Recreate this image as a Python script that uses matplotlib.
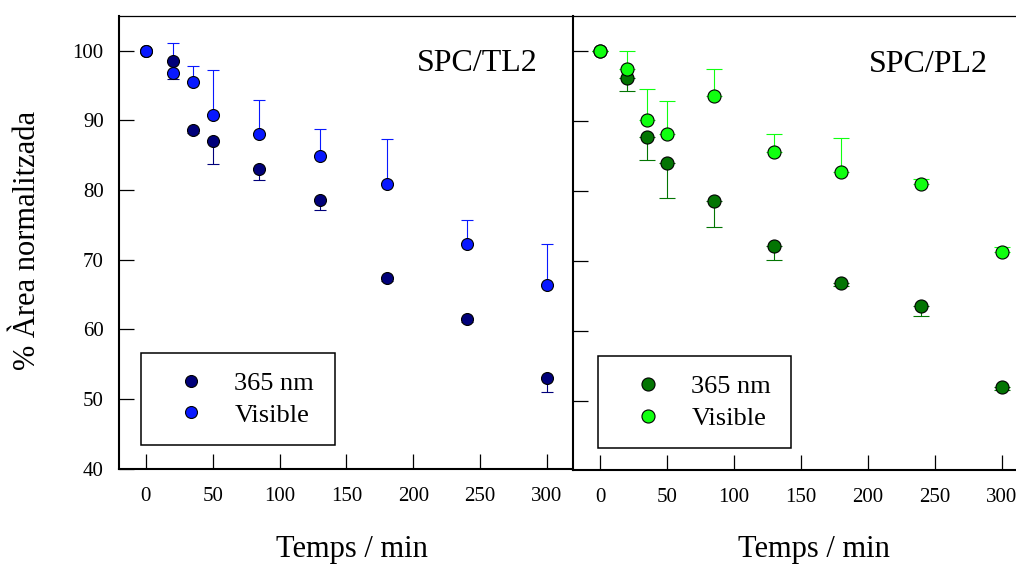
import numpy as np
import matplotlib
matplotlib.use('Agg')
import matplotlib.pyplot as plt

plt.rcParams['font.family'] = ['Liberation Serif', 'DejaVu Serif']

# sampling times (min)
temps = [0, 20, 35, 50, 85, 130, 180, 240, 300]

# SPC/TL2
tl2_365 = [100, 98.5, 88.6, 87.1, 83.0, 78.6, 67.4, 61.5, 53.0]
tl2_365_err = [0, 2.6, 0.4, 3.3, 1.5, 1.4, 0.4, 0.4, 2.0]      # lower side only
tl2_vis = [100, 96.8, 95.5, 90.8, 88.1, 84.9, 80.9, 72.3, 66.3]
tl2_vis_err = [0, 4.3, 2.3, 6.4, 4.9, 3.9, 6.45, 3.4, 6.0]     # upper side only

# SPC/PL2
pl2_365 = [100, 96.1, 87.7, 84.0, 78.5, 72.1, 66.8, 63.6, 51.9]
pl2_365_err = [0, 1.8, 3.3, 5.0, 3.6, 2.0, 0.4, 1.5, 0.3]
pl2_vis = [100, 97.4, 90.2, 88.1, 93.5, 85.5, 82.7, 81.0, 71.2]
pl2_vis_err = [0, 2.6, 4.4, 4.7, 3.9, 2.7, 4.8, 0.7, 0.8]

xticks = [0, 50, 100, 150, 200, 250, 300]
yticks = [40, 50, 60, 70, 80, 90, 100]

fig = plt.figure(figsize=(10.16, 5.64), dpi=100)
ax1 = fig.add_axes([119 / 1016, (564 - 468.5) / 564, 454 / 1016, 452.5 / 564])
ax2 = fig.add_axes([573 / 1016, (564 - 470) / 564, 443 / 1016, 454 / 564])


def draw(ax, y365, e365, yvis, evis, c365, cvis, ms, cap):
    zeros = np.zeros(len(temps))
    eb1 = ax.errorbar(temps, y365, yerr=[e365, zeros], fmt='o', color=c365, ecolor=c365,
                      mec='black', mew=0.8, ms=ms, elinewidth=0.8, capsize=cap, capthick=0.8)
    eb2 = ax.errorbar(temps, yvis, yerr=[zeros, evis], fmt='o', color=cvis, ecolor=cvis,
                      mec='black', mew=0.8, ms=ms, elinewidth=0.8, capsize=cap, capthick=0.8)
    ax.set_xticks(xticks)
    ax.set_yticks(yticks)
    ax.tick_params(direction='in', length=11, width=0.9, labelsize=15)
    ax.tick_params(axis='x', pad=13)
    ax.tick_params(axis='y', pad=11)
    ax.spines['left'].set_linewidth(1.5)
    ax.spines['bottom'].set_linewidth(1.5)
    ax.spines['top'].set_linewidth(0.9)
    ax.spines['right'].set_linewidth(0.9)
    return eb1[0], eb2[0]


h1 = draw(ax1, tl2_365, tl2_365_err, tl2_vis, tl2_vis_err, '#00007a', '#0818ff', 8.6, 4)
h2 = draw(ax2, pl2_365, pl2_365_err, pl2_vis, pl2_vis_err, '#037503', '#10ff10', 9.4, 6)

ax1.set_xlim(-20, 319.4)
ax1.set_ylim(40, 105)
ax2.set_xlim(-20.5, 310.7)
ax2.set_ylim(40.1, 105)
ax2.tick_params(axis='y', labelleft=False)
ax2.spines['right'].set_visible(False)

ax1.text(0.921, 0.879, 'SPC/TL2', transform=ax1.transAxes, ha='right', va='baseline', fontsize=23)
ax2.text(0.9375, 0.877, 'SPC/PL2', transform=ax2.transAxes, ha='right', va='baseline', fontsize=23)

for ax, hs, box in [(ax1, h1, (0.0478, 0.0517, 0.4286, 0.2240)),
                    (ax2, h2, (0.0558, 0.0478, 0.4357, 0.2247))]:
    leg = ax.legend(hs, ['365 nm', 'Visible'], loc='lower left', bbox_to_anchor=box,
                    mode='expand', borderaxespad=0, fontsize=19, fancybox=False,
                    framealpha=1, edgecolor='black', borderpad=0.7, handlelength=2.4,
                    handletextpad=0.45, labelspacing=0.3)
    leg.get_frame().set_linewidth(1.1)

fig.text(28 / 1016, (564 - 240) / 564, '% Àrea normalitzada', rotation=90,
         ha='center', va='center', fontsize=22)
fig.text(352 / 1016, (564 - 557) / 564, 'Temps / min', ha='center', va='baseline', fontsize=22)
fig.text(814 / 1016, (564 - 557) / 564, 'Temps / min', ha='center', va='baseline', fontsize=22)

fig.savefig('out.png', dpi=100)
